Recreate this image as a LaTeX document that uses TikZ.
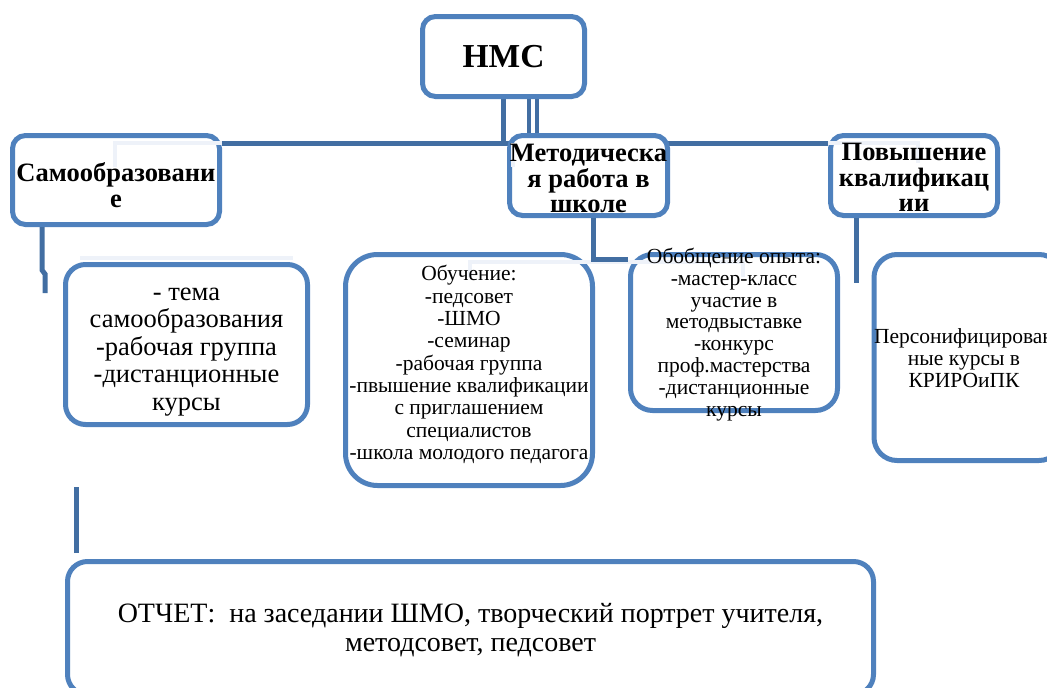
\documentclass[tikz,border=0pt]{standalone}
\usepackage{fontspec}
\setmainfont{Liberation Serif}
\usetikzlibrary{backgrounds}
\definecolor{boxblue}{RGB}{79,129,189}
\definecolor{lineblue}{RGB}{66,110,162}
\definecolor{ghostblue}{RGB}{238,242,249}
\tikzset{
  box/.style={draw=boxblue, line width=5pt, rounded corners=#1, fill=white, inner sep=0pt},
  box/.default=13pt,
  link/.style={draw=lineblue, line width=5pt},
  thinlink/.style={draw=lineblue, line width=3.5pt},
  ghost/.style={draw=ghostblue, line width=3.5pt},
  head/.style={align=center, inner sep=0pt, font=\bfseries\fontsize{26.5}{25.5}\selectfont},
  txt/.style={align=center, inner sep=0pt, font=\fontsize{21.5}{22}\selectfont},
}
\begin{document}
\begin{tikzpicture}[x=1pt, y=-1pt]
        \useasboundingbox (0,0) rectangle (1047,688);
        % boxes
        \node[box, minimum width=162pt, minimum height=80pt] (hmc) at (503.5,56.5) {};
        \node[box, minimum width=207pt, minimum height=89pt] (samo) at (116,180) {};
        \node[box, minimum width=158pt, minimum height=80pt] (metod) at (588.5,175.5) {};
        \node[box, minimum width=167pt, minimum height=80pt] (pov) at (914,175.5) {};
        \node[box=20pt, minimum width=242pt, minimum height=160pt] (tema) at (186.5,344.5) {};
        \node[box=32pt, minimum width=247pt, minimum height=231pt] (obuch) at (469,370) {};
        \node[box=22pt, minimum width=207pt, minimum height=156pt] (obob) at (734,332.5) {};
        \node[box=23pt, minimum width=188pt, minimum height=206pt] (pers) at (968,357.5) {};
        \node[box=20pt, minimum width=806pt, minimum height=133pt] (otchet) at (470.5,628) {};
        % faint traces
        \draw[ghost] (115,167) -- (115,143) -- (222,143);
        \draw[ghost] (513,167) -- (513,143);
        \draw[ghost] (828,143) -- (918,143) -- (918,163);
        \draw[ghost] (470,277) -- (470,262) -- (743,262) -- (743,277);
        \draw[ghost] (80,258) -- (293,258);
        % texts
        \node[inner sep=0pt, font=\bfseries\fontsize{33.5}{36}\selectfont] (hmctext) at (hmc) {НМС};
        \node[head] (samotext) at ([yshift=-5]samo.center) {Самообразовани\\е};
        \node[head] (metodtext) at ([yshift=-3]metod.center) {Методическа\\я работа в\\школе};
        \node[head] (povtext) at ([yshift=-2]pov.center) {Повышение\\квалификац\\ии};
        \node[txt, font=\fontsize{26.5}{27.5}\selectfont] (tematext) at ([yshift=-7.5]tema.center)
            {- тема\\самообразования\\-рабочая группа\\-дистанционные\\курсы};
        \node[txt, font=\fontsize{21.5}{22.3}\selectfont] (obuchtext) at ([yshift=5.5]obuch.center)
            {Обучение:\\-педсовет\\-ШМО\\-семинар\\-рабочая группа\\-пвышение квалификации\\с приглашением\\специалистов\\-школа молодого педагога};
        \node[txt, font=\fontsize{21.5}{21.9}\selectfont] (obobtext) at ([yshift=-2]obob.center)
            {Обобщение опыта:\\-мастер-класс\\участие в\\методвыставке\\-конкурс\\проф.мастерства\\-дистанционные\\курсы};
        \node[txt] (perstext) at (964,358)
            {Персонифицирован\\ные курсы в\\КРИРОиПК};
        \node[txt, font=\fontsize{28}{29}\selectfont] (otchettext) at ([yshift=-2]otchet.center)
            {ОТЧЕТ:\ \ на заседании ШМО, творческий портрет учителя,\\методсовет, педсовет};
        % connectors
        \begin{scope}[on background layer]
        \coordinate (bus) at (0,143);
        \draw[link] (samo.east |- bus) -- (pov.west |- bus);
        \draw[link] (hmc.south -| 503,0) -- (503,143);
        \draw[thinlink] (hmc.south -| 529,0) -- (metod.north -| 529,0);
        \draw[thinlink] (hmc.south -| 537,0) -- (metod.north -| 537,0);
        \end{scope}
        \draw[link] (metod.south -| 593,0) |- (obob.west |- 0,259);
        \draw[link] (samo.south -| 42,0) -- (42,270) -- (45,274) -- (45,293);
        \draw[link] (pov.south -| 856,0) -- (856,283);
        \draw[link] (otchet.north -| 76,0) ++(0,-6) -- (76,487);
\end{tikzpicture}
\end{document}
